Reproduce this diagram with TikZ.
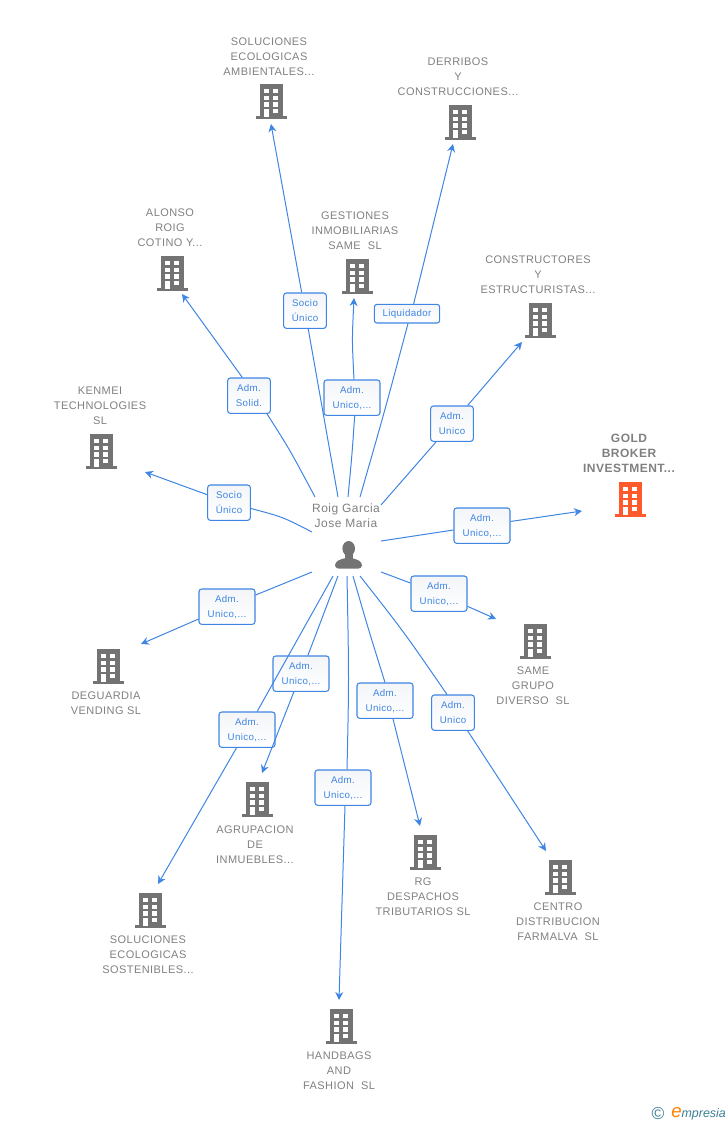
\documentclass[tikz,border=0pt]{standalone}
\usepackage{fontspec}
\setmainfont{Liberation Sans}
\usetikzlibrary{arrows.meta}
\definecolor{linkblue}{HTML}{3F85E3}
\definecolor{txtgray}{HTML}{808080}
\definecolor{bldgray}{HTML}{737373}
\definecolor{bldorange}{HTML}{FF5A2B}
\definecolor{logoteal}{HTML}{3C7F96}
\definecolor{boxshade}{HTML}{F3F5F8}
\newfontfamily\spacedfont[LetterSpace=4]{Liberation Sans}
\tikzset{
    company/.style={align=center, text=txtgray, font=\fontsize{8.25}{11.25}\selectfont\spacedfont, inner sep=0pt, yshift=-0.75pt},
    rolebox/.style={draw=linkblue, line width=0.8pt, rounded corners=2pt, top color=boxshade, bottom color=white, text=linkblue, align=center,
        font=\fontsize{7.3}{11.25}\selectfont\spacedfont, inner sep=0pt, minimum height=26.5pt, yshift=-0.5pt},
    link/.style={draw=linkblue, line width=0.75pt},
    arrowlink/.style={link, -{Stealth[length=6pt,width=6pt]}},
    pics/building/.style={code={
        \fill[pic actions] (-11.5,-17) rectangle (11.5,15.5);
        \fill[pic actions] (-15.5,15) rectangle (15.5,17.5);
        \foreach \row in {-12,-5.3,1.3} {
            \fill[white] (-7.5,\row) rectangle (-2.2,{\row+4.4});
            \fill[white] (1.8,\row) rectangle (6.8,{\row+4.4});
        }
        \fill[white] (-7.5,8) rectangle (-2.2,15.7);
        \fill[white] (1.8,8) rectangle (6.8,12.4);
    }},
}
\begin{document}
\begin{tikzpicture}[x=0.75pt,y=-0.75pt]
    \useasboundingbox (0,0) rectangle (728,1125);
    % central person
    \node [company, font=\fontsize{9}{11.25}\selectfont\spacedfont] (person) at (346,515) {Roig Garcia\\Jose Maria};
    \fill [bldgray] (348.7,548.5) ellipse (6.3 and 7.5);
    \fill [bldgray] (344.5,552) rectangle (353,560);
    \fill [bldgray, rounded corners=2.5pt] (335,568.5) -- (335,562) -- (344,558) -- (353,558) -- (362,562) -- (362,568.5) -- cycle;
    % companies
    \pic [fill=bldgray] at (271.5,101) {building};
    \node [company] (solamb) at (269,56) {SOLUCIONES\\ECOLOGICAS\\AMBIENTALES...};
    \pic [fill=bldgray] at (460,122) {building};
    \node [company] (derribos) at (458,76) {DERRIBOS\\Y\\CONSTRUCCIONES...};
    \pic [fill=bldgray] at (172.5,273) {building};
    \node [company] (alonso) at (170,227) {ALONSO\\ROIG\\COTINO Y...};
    \pic [fill=bldgray] at (357.5,276) {building};
    \node [company] (gestiones) at (355,230) {GESTIONES\\INMOBILIARIAS\\SAME\ \ SL};
    \pic [fill=bldgray] at (540.5,320) {building};
    \node [company] (constructores) at (538,274) {CONSTRUCTORES\\Y\\ESTRUCTURISTAS...};
    \pic [fill=bldgray] at (101.5,451) {building};
    \node [company] (kenmei) at (100,405) {KENMEI\\TECHNOLOGIES\\SL};
    \pic [fill=bldorange] at (630.5,499) {building};
    \node [company, font=\fontsize{9}{11.25}\selectfont\spacedfont\bfseries] (gold) at (629,452) {GOLD\\BROKER\\INVESTMENT...};
    \pic [fill=bldgray] at (535.5,641) {building};
    \node [company] (same) at (533,685) {SAME\\GRUPO\\DIVERSO\ \ SL};
    \pic [fill=bldgray] at (108.5,666) {building};
    \node [company] (deguardia) at (106,702) {DEGUARDIA\\VENDING SL};
    \pic [fill=bldgray] at (257.5,799) {building};
    \node [company] (agrupacion) at (255,844) {AGRUPACION\\DE\\INMUEBLES...};
    \pic [fill=bldgray] at (150.5,910) {building};
    \node [company] (solsos) at (148,954) {SOLUCIONES\\ECOLOGICAS\\SOSTENIBLES...};
    \pic [fill=bldgray] at (341.5,1026) {building};
    \node [company] (handbags) at (339,1070) {HANDBAGS\\AND\\FASHION\ \ SL};
    \pic [fill=bldgray] at (425.5,852) {building};
    \node [company] (rg) at (423,896) {RG\\DESPACHOS\\TRIBUTARIOS SL};
    \pic [fill=bldgray] at (560.5,877) {building};
    \node [company] (centro) at (558,921) {CENTRO\\DISTRIBUCION\\FARMALVA\ \ SL};
    % role labels
    \node [rolebox, minimum width=32pt] (rolesolamb) at (305,310) {Socio\\Único};
    \node [rolebox, minimum width=49pt, minimum height=14pt] (rolederribos) at (407,313) {Liquidador};
    \node [rolebox, minimum width=32pt] (rolealonso) at (249,395) {Adm.\\Solid.};
    \node [rolebox, minimum width=42pt] (rolegestiones) at (352,397) {Adm.\\Unico,...};
    \node [rolebox, minimum width=32pt] (roleconstructores) at (452,423) {Adm.\\Unico};
    \node [rolebox, minimum width=32pt] (rolekenmei) at (229,502) {Socio\\Único};
    \node [rolebox, minimum width=42pt] (rolegold) at (482,525) {Adm.\\Unico,...};
    \node [rolebox, minimum width=42pt] (rolesame) at (439,593) {Adm.\\Unico,...};
    \node [rolebox, minimum width=42pt] (roledeguardia) at (227,606) {Adm.\\Unico,...};
    \node [rolebox, minimum width=42pt] (roleagrupacion) at (301,673) {Adm.\\Unico,...};
    \node [rolebox, minimum width=42pt] (rolesolsos) at (247,729) {Adm.\\Unico,...};
    \node [rolebox, minimum width=42pt] (rolehandbags) at (343,787) {Adm.\\Unico,...};
    \node [rolebox, minimum width=42pt] (rolerg) at (385,700) {Adm.\\Unico,...};
    \node [rolebox, minimum width=32pt] (rolecentro) at (453,712) {Adm.\\Unico};
    % ends of the links
    \coordinate (s1) at (338,497);  \coordinate (e1) at (271,124);
    \coordinate (s2) at (360,497);  \coordinate (e2) at (453,144);
    \coordinate (s3) at (315,497);  \coordinate (e3) at (182,294);
    \coordinate (s4) at (348,497);  \coordinate (e4) at (354,298);
    \coordinate (s5) at (381,505);  \coordinate (e5) at (522,342);
    \coordinate (s6) at (312,532);  \coordinate (e6) at (145,472);
    \coordinate (s7) at (381,541);  \coordinate (e7) at (582,511);
    \coordinate (s8) at (381,572);  \coordinate (e8) at (496,619);
    \coordinate (s9) at (312,572);  \coordinate (e9) at (141,644);
    \coordinate (s10) at (338,576); \coordinate (e10) at (262,773);
    \coordinate (s11) at (333,576); \coordinate (e11) at (158,884);
    \coordinate (s12) at (347,576); \coordinate (e12) at (339,1000);
    \coordinate (s13) at (353,576); \coordinate (e13) at (420,826);
    \coordinate (s14) at (360,576); \coordinate (e14) at (546,851);
    % links
    \draw [link] (s1) -- (rolesolamb);
    \draw [arrowlink] (rolesolamb) -- (e1);
    \draw [link] (s2) .. controls (385,410) .. ([xshift=0.75pt]rolederribos.south);
    \draw [arrowlink] ([xshift=5pt]rolederribos.north) -- (e2);
    \draw [link] (s3) .. controls (290,450) .. ([xshift=13.5pt]rolealonso.south);
    \draw [arrowlink] ([xshift=-5pt]rolealonso.north) -- (e3);
    \draw [link] (s4) .. controls (352,455) .. ([xshift=2pt]rolegestiones.south);
    \draw [arrowlink] ([xshift=1.5pt]rolegestiones.north) .. controls (352,340) .. (e4);
    \draw [link] (s5) -- (roleconstructores);
    \draw [arrowlink] (roleconstructores) -- (e5);
    \draw [link] (s6) .. controls (283,517) .. (rolekenmei);
    \draw [arrowlink] (rolekenmei) -- (e6);
    \draw [link] (s7) -- (rolegold);
    \draw [arrowlink] (rolegold) -- (e7);
    \draw [link] (s8) -- (rolesame);
    \draw [arrowlink] (rolesame) -- (e8);
    \draw [link] (s9) -- (roledeguardia);
    \draw [arrowlink] (roledeguardia) -- (e9);
    \draw [link] (s10) -- (roleagrupacion);
    \draw [arrowlink] (roleagrupacion) -- (e10);
    \draw [link] (s11) -- (rolesolsos);
    \draw [arrowlink] (rolesolsos) -- (e11);
    \draw [link] (s12) .. controls (349,680) .. ([xshift=3pt]rolehandbags.north);
    \draw [arrowlink] ([xshift=1.5pt]rolehandbags.south) -- (e12);
    \draw [link] (s13) .. controls (368,628) .. (rolerg.north);
    \draw [arrowlink] ([xshift=6pt]rolerg.south) -- (e13);
    \draw [link] (s14) .. controls (404,632) .. ([xshift=-4.5pt]rolecentro.north);
    \draw [arrowlink] ([xshift=11pt]rolecentro.south) -- (e14);
    % logo
    \node [text=logoteal, font=\fontsize{13}{13}\selectfont, inner sep=0pt] (copyrightsign) at (658,1114) {©};
    \node [text=logoteal, font=\fontsize{9.3}{10}\selectfont\itshape, inner sep=0pt, anchor=west] (logotext) at (671,1114) {\textcolor{orange}{\fontsize{14}{14}\selectfont e}mpresia};
\end{tikzpicture}
\end{document}
